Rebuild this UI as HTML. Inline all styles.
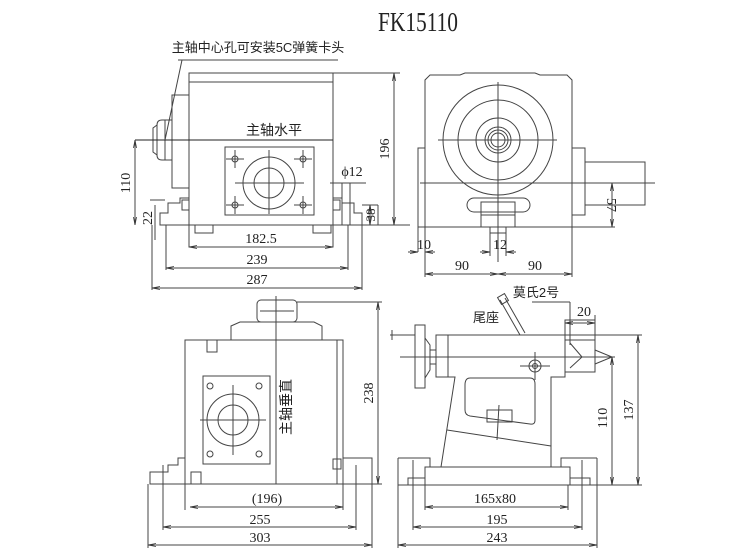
<!DOCTYPE html>
<html><head><meta charset="utf-8"><style>
html,body{margin:0;padding:0;background:#fff;width:750px;height:557px;overflow:hidden}
svg{display:block}
text{font-family:"Liberation Serif","Noto Serif CJK SC",serif;fill:#222}
.c{font-family:"Liberation Sans","Noto Sans CJK SC",sans-serif}
</style></head><body>
<svg width="750" height="557" viewBox="0 0 750 557" xmlns="http://www.w3.org/2000/svg">
<defs><marker id="a" markerWidth="8" markerHeight="6" refX="8" refY="3" orient="auto-start-reverse"><path d="M0,1.5 L8,3 L0,4.5" fill="none" stroke="#333" stroke-width="0.8"/></marker></defs>
<g fill="none" stroke="#444" stroke-width="1">
<!-- TOP LEFT VIEW -->
<rect x="189" y="73" width="144" height="152"/>
<line x1="189" y1="82" x2="333" y2="82"/>
<rect x="172" y="95" width="17" height="93"/>
<path d="M172,120 H162 Q157,120 157,125 V155 Q157,160 162,160 H172"/>
<path d="M157,125 L153,128 V152 L157,155"/>
<line x1="165" y1="120" x2="165" y2="160"/>
<line x1="135" y1="140" x2="333" y2="140" stroke="#222"/>
<rect x="225" y="147" width="89" height="68"/>
<circle cx="269" cy="183" r="26"/><circle cx="269" cy="183" r="15"/>
<line x1="235" y1="183" x2="304" y2="183"/><line x1="269" y1="150" x2="269" y2="214"/>
<circle cx="235" cy="159" r="3"/><circle cx="303" cy="159" r="3"/><circle cx="235" cy="205" r="3"/><circle cx="303" cy="205" r="3"/>
<line x1="226" y1="159" x2="244" y2="159"/><line x1="235" y1="150" x2="235" y2="168"/>
<line x1="294" y1="159" x2="312" y2="159"/><line x1="303" y1="150" x2="303" y2="168"/>
<line x1="226" y1="205" x2="244" y2="205"/><line x1="235" y1="196" x2="235" y2="214"/>
<line x1="294" y1="205" x2="312" y2="205"/><line x1="303" y1="196" x2="303" y2="214"/>
<path d="M189,198 H180 V203 H168 V213 H160 V225 H189"/>
<rect x="182" y="200" width="7" height="10"/>
<path d="M333,198 H342 V203 H354 V213 H362 V225 H333"/>
<rect x="333" y="200" width="7" height="10"/>
<line x1="160" y1="225" x2="410" y2="225"/>
<path d="M189,225 V247 H333 V225"/>
<rect x="195" y="225" width="18" height="8"/><rect x="313" y="225" width="18" height="8"/>
<line x1="333" y1="73" x2="400" y2="73"/>
<line x1="394" y1="73" x2="394" y2="225" marker-start="url(#a)" marker-end="url(#a)"/>
<line x1="135" y1="140" x2="135" y2="225" marker-start="url(#a)" marker-end="url(#a)"/>
<line x1="150" y1="200" x2="165" y2="200"/>
<line x1="155" y1="205" x2="155" y2="240"/>
<line x1="362" y1="205" x2="378" y2="205"/><line x1="378" y1="205" x2="378" y2="225"/>
<line x1="370" y1="205" x2="370" y2="225" marker-start="url(#a)" marker-end="url(#a)"/>
<line x1="330" y1="183" x2="366" y2="183"/>
<line x1="342" y1="183" x2="342" y2="225"/><line x1="350" y1="183" x2="350" y2="225"/>
<line x1="189" y1="247" x2="333" y2="247" marker-start="url(#a)" marker-end="url(#a)"/>
<line x1="166" y1="225" x2="166" y2="270"/><line x1="348" y1="225" x2="348" y2="270"/>
<line x1="166" y1="268" x2="348" y2="268" marker-start="url(#a)" marker-end="url(#a)"/>
<line x1="152" y1="225" x2="152" y2="290"/><line x1="362" y1="225" x2="362" y2="290"/>
<line x1="152" y1="288" x2="362" y2="288" marker-start="url(#a)" marker-end="url(#a)"/>
<line x1="178" y1="60" x2="338" y2="60"/><line x1="182" y1="60" x2="165" y2="140"/>
<!-- TOP RIGHT VIEW -->
<path d="M425,227 V80 L430,75 H460 L465,73 H535 L540,75 H567 L572,80 V227 Z"/>
<circle cx="498" cy="140" r="55"/><circle cx="498" cy="140" r="40"/><circle cx="498" cy="140" r="22"/>
<circle cx="498" cy="140" r="13"/><circle cx="498" cy="140" r="10"/><circle cx="498" cy="140" r="7"/>
<line x1="438" y1="140" x2="557" y2="140"/><line x1="498" y1="82" x2="498" y2="262"/>
<rect x="418" y="148" width="7" height="79"/>
<line x1="418" y1="227" x2="418" y2="252"/>
<rect x="572" y="148" width="13" height="67"/>
<rect x="585" y="162" width="60" height="43"/>
<line x1="420" y1="183" x2="655" y2="183"/>
<rect x="467" y="198" width="63" height="14" rx="7"/>
<rect x="481" y="202" width="34" height="25"/><line x1="481" y1="215" x2="515" y2="215"/>
<rect x="490" y="227" width="16" height="6"/>
<line x1="490" y1="227" x2="490" y2="256"/><line x1="506" y1="227" x2="506" y2="256"/>
<line x1="572" y1="227" x2="615" y2="227"/>
<line x1="612" y1="183" x2="612" y2="227" marker-start="url(#a)" marker-end="url(#a)"/>
<line x1="408" y1="252" x2="418" y2="252" marker-end="url(#a)"/><line x1="425" y1="252" x2="435" y2="252" marker-start="url(#a)"/>
<line x1="480" y1="252" x2="490" y2="252" marker-end="url(#a)"/><line x1="506" y1="252" x2="516" y2="252" marker-start="url(#a)"/>
<line x1="425" y1="227" x2="425" y2="277"/><line x1="572" y1="227" x2="572" y2="277"/>
<line x1="425" y1="274" x2="498" y2="274" marker-start="url(#a)" marker-end="url(#a)"/>
<line x1="498" y1="274" x2="572" y2="274" marker-start="url(#a)" marker-end="url(#a)"/>
<!-- BOTTOM LEFT VIEW -->
<rect x="257" y="300" width="40" height="22" rx="4"/>
<line x1="260" y1="311" x2="294" y2="311"/>
<path d="M231,340 V326 L240,322 H314 L322,326 V340"/>
<rect x="185" y="340" width="158" height="144"/>
<line x1="337" y1="340" x2="337" y2="484"/>
<rect x="207" y="340" width="10" height="12"/>
<rect x="203" y="376" width="67" height="88"/>
<circle cx="233" cy="420" r="26"/><circle cx="233" cy="420" r="15"/>
<line x1="200" y1="420" x2="266" y2="420"/><line x1="233" y1="385" x2="233" y2="455"/>
<circle cx="210" cy="386" r="3"/><circle cx="259" cy="386" r="3"/><circle cx="210" cy="454" r="3"/><circle cx="259" cy="454" r="3"/>
<line x1="276" y1="296" x2="276" y2="484"/>
<path d="M185,458 H178 V465 H168 V472 H150 V484 H185"/>
<rect x="191" y="472" width="10" height="12"/>
<path d="M343,458 H372 V484 H343"/><rect x="333" y="459" width="8" height="10"/>
<line x1="297" y1="302" x2="382" y2="302"/><line x1="343" y1="484" x2="382" y2="484"/>
<line x1="378" y1="302" x2="378" y2="484" marker-start="url(#a)" marker-end="url(#a)"/>
<line x1="185" y1="484" x2="185" y2="510"/><line x1="343" y1="484" x2="343" y2="510"/>
<line x1="190" y1="507" x2="343" y2="507" marker-start="url(#a)" marker-end="url(#a)"/>
<line x1="163" y1="465" x2="163" y2="530"/><line x1="356" y1="465" x2="356" y2="530"/>
<line x1="163" y1="527" x2="356" y2="527" marker-start="url(#a)" marker-end="url(#a)"/>
<line x1="148" y1="484" x2="148" y2="548"/><line x1="372" y1="484" x2="372" y2="548"/>
<line x1="148" y1="545" x2="372" y2="545" marker-start="url(#a)" marker-end="url(#a)"/>
<!-- BOTTOM RIGHT VIEW -->
<line x1="390" y1="335" x2="415" y2="335"/><line x1="392" y1="330" x2="392" y2="340"/>
<rect x="415" y="325" width="10" height="63"/>
<path d="M425,338 L430,345 V370 L425,378"/>
<rect x="430" y="350" width="6" height="14"/>
<rect x="436" y="335" width="12" height="42"/>
<path d="M448,335 H565 V377 H551 V467 M448,377 H455 L441,467"/>
<path d="M470,378 H530 Q535,378 535,384 V420 Q535,425 530,424 L470,416 Q465,415 465,410 V385 Q465,378 470,378 Z"/>
<rect x="487" y="410" width="25" height="12"/>
<line x1="499" y1="405" x2="497" y2="440"/>
<line x1="447" y1="430" x2="551" y2="446"/>
<circle cx="535" cy="366" r="6"/><circle cx="535" cy="366" r="2.5"/>
<line x1="520" y1="366" x2="550" y2="366"/><line x1="535" y1="352" x2="535" y2="380"/>
<line x1="400" y1="357" x2="615" y2="357"/>
<rect x="565" y="320" width="30" height="52"/><line x1="565" y1="340" x2="595" y2="340"/>
<path d="M570,343 L582,357 L570,368"/>
<path d="M595,350 L612,357 L595,364"/>
<path d="M500,300 L520,335 M505,298 L525,333"/>
<rect x="499" y="295" width="8" height="8" transform="rotate(-30 503 299)"/>
<path d="M425,467 H570 V485 H425 Z"/>
<path d="M398,458 H430 V467 M398,458 V485 H425 M408,485 V478 H425"/>
<path d="M597,458 H561 V467 M597,458 V485 H570 M590,485 V478 H570"/>
<line x1="532" y1="302" x2="570" y2="302"/><line x1="570" y1="302" x2="570" y2="345"/>
<line x1="565" y1="323" x2="595" y2="323" marker-start="url(#a)" marker-end="url(#a)"/>
<line x1="595" y1="320" x2="595" y2="315"/>
<line x1="565" y1="335" x2="642" y2="335"/><line x1="570" y1="485" x2="642" y2="485"/>
<line x1="612" y1="357" x2="612" y2="485" marker-start="url(#a)" marker-end="url(#a)"/>
<line x1="638" y1="335" x2="638" y2="485" marker-start="url(#a)" marker-end="url(#a)"/>
<line x1="425" y1="485" x2="425" y2="510"/><line x1="568" y1="485" x2="568" y2="510"/>
<line x1="425" y1="507" x2="568" y2="507" marker-start="url(#a)" marker-end="url(#a)"/>
<line x1="413" y1="460" x2="413" y2="530"/><line x1="582" y1="460" x2="582" y2="530"/>
<line x1="413" y1="527" x2="582" y2="527" marker-start="url(#a)" marker-end="url(#a)"/>
<line x1="398" y1="485" x2="398" y2="548"/><line x1="597" y1="485" x2="597" y2="548"/>
<line x1="398" y1="545" x2="597" y2="545" marker-start="url(#a)" marker-end="url(#a)"/>
</g>
<text x="418" y="31" font-size="27" text-anchor="middle" textLength="80" lengthAdjust="spacingAndGlyphs">FK15110</text>
<g font-size="14">
<text class="c" x="258" y="52" text-anchor="middle" font-size="13">主轴中心孔可安装5C弹簧卡头</text>
<text class="c" x="274" y="135" text-anchor="middle" font-size="14">主轴水平</text>
<text x="261" y="243" text-anchor="middle">182.5</text>
<text x="257" y="264" text-anchor="middle">239</text>
<text x="257" y="284" text-anchor="middle">287</text>
<text x="352" y="176" text-anchor="middle">ϕ12</text>
<text transform="translate(389,149) rotate(-90)" text-anchor="middle">196</text>
<text transform="translate(130,183) rotate(-90)" text-anchor="middle">110</text>
<text transform="translate(152,218) rotate(-90)" text-anchor="middle">22</text>
<text transform="translate(375,215) rotate(-90)" text-anchor="middle" font-size="13">38</text>
<text x="424" y="249" text-anchor="middle">10</text>
<text x="500" y="249" text-anchor="middle">12</text>
<text x="462" y="270" text-anchor="middle">90</text>
<text x="535" y="270" text-anchor="middle">90</text>
<text transform="translate(607,205) rotate(90)" text-anchor="middle">57</text>
<text class="c" transform="translate(291,407) rotate(-90)" text-anchor="middle" font-size="14">主轴垂直</text>
<text transform="translate(373,393) rotate(-90)" text-anchor="middle">238</text>
<text x="267" y="503" text-anchor="middle">(196)</text>
<text x="260" y="524" text-anchor="middle">255</text>
<text x="260" y="542" text-anchor="middle">303</text>
<text class="c" x="486" y="322" text-anchor="middle" font-size="13">尾座</text>
<text class="c" x="536" y="297" text-anchor="middle" font-size="13">莫氏2号</text>
<text x="584" y="316" text-anchor="middle">20</text>
<text transform="translate(607,418) rotate(-90)" text-anchor="middle">110</text>
<text transform="translate(633,410) rotate(-90)" text-anchor="middle">137</text>
<text x="495" y="503" text-anchor="middle">165x80</text>
<text x="497" y="524" text-anchor="middle">195</text>
<text x="497" y="542" text-anchor="middle">243</text>
</g>
</svg>
</body></html>
